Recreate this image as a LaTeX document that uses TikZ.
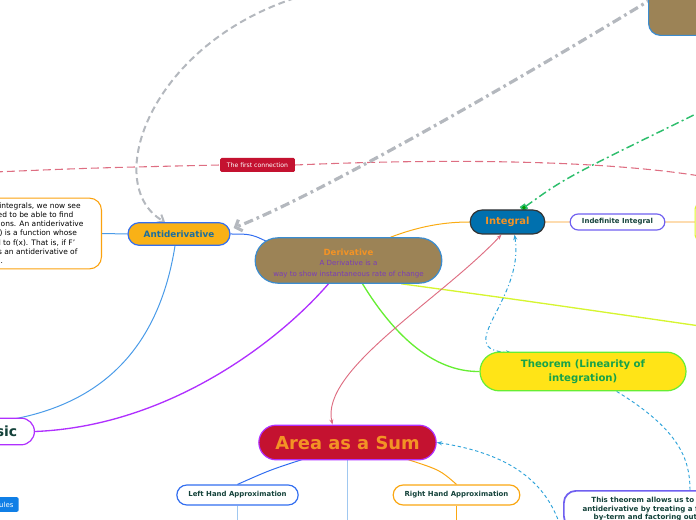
\documentclass[tikz,border=0pt]{standalone}
\usepackage{fontspec}
\setmainfont{DejaVu Sans}
\usepackage{tikz}
\usetikzlibrary{arrows.meta, calc, shapes.misc, backgrounds}
\definecolor{mapbrown}{RGB}{156,131,86}
\definecolor{maporange}{RGB}{243,147,37}
\definecolor{mappurple}{RGB}{122,61,184}
\definecolor{mapblue}{RGB}{59,140,208}
\definecolor{antifill}{RGB}{249,177,22}
\definecolor{antitext}{RGB}{27,110,158}
\definecolor{intfill}{RGB}{0,112,174}
\definecolor{areafill}{RGB}{196,18,48}
\definecolor{thmfill}{RGB}{255,228,23}
\definecolor{thmtext}{RGB}{22,162,74}
\definecolor{textgreen}{RGB}{20,66,58}
\definecolor{violetline}{RGB}{112,96,240}
\definecolor{brightviolet}{RGB}{176,48,255}
\definecolor{peach}{RGB}{253,220,176}
\definecolor{greyline}{RGB}{180,184,190}
\definecolor{pinkline}{RGB}{222,110,130}
\definecolor{limeline}{RGB}{214,245,48}
\definecolor{grassline}{RGB}{102,238,51}
\definecolor{dotgreen}{RGB}{45,190,108}
\definecolor{rulesblue}{RGB}{16,127,230}
\definecolor{skyline}{RGB}{74,155,232}
\definecolor{paleblue}{RGB}{160,200,240}
\definecolor{branchblue}{RGB}{50,110,240}

\begin{document}
\begin{tikzpicture}[
    x=0.75pt, y=-0.75pt,
    topic/.style={rounded rectangle, draw, line width=0.9pt, inner sep=0pt,
                  font=\bfseries},
    subtopic/.style={rounded rectangle, draw, line width=0.9pt, fill=white,
                     inner sep=0pt, text=textgreen,
                     font=\bfseries\fontsize{5.2}{6}\selectfont},
    notebox/.style={rectangle, rounded corners=9pt, draw, fill=white,
                    line width=0.8pt},
    link/.style={line width=0.75pt},
    relation/.style={line width=0.75pt, dash pattern=on 3pt off 2pt on 0.8pt off 2pt}
]
\useasboundingbox (0,0) rectangle (696,520);
\clip (0,0) rectangle (696,520);

% main topics
\node[topic, fill=mapbrown, draw=mapblue, minimum width=140pt, minimum height=34pt,
      align=center, text=maporange, font=\bfseries\fontsize{6.4}{8.5}\selectfont]
    (deriv) at (348.5,260.5)
    {\rule{0pt}{9pt}Derivative\\[-1pt]
     \mdseries\fontsize{5.3}{7.8}\selectfont\color{mappurple}A Derivative is a\\
     \mdseries\fontsize{5.3}{7.8}\selectfont\color{mappurple}way to show instantaneous rate of change};
\node[topic, fill=antifill, draw=branchblue, text=antitext, minimum width=76.5pt,
      minimum height=17pt, font=\bfseries\fontsize{6.6}{8}\selectfont] (antideriv)
    at (179,234) {Antiderivative};
\node[topic, fill=intfill, draw=black!80, text=maporange, minimum width=56pt,
      minimum height=18pt, font=\bfseries\fontsize{7.4}{9}\selectfont] (integral)
    at (507.5,222) {Integral};
\node[topic, fill=areafill, draw=brightviolet, text=maporange, minimum width=133pt,
      minimum height=26pt, font=\bfseries\fontsize{13.4}{16}\selectfont] (area)
    at (347.5,442.5) {Area as a Sum};
\node[topic, fill=thmfill, draw=grassline, text=thmtext, minimum width=154.5pt,
      minimum height=29pt, align=center, font=\bfseries\fontsize{7.6}{10.5}\selectfont]
    (theorem) at (583,371.5) {Theorem (Linearity of\\integration)};
\node[topic, fill=white, draw=brightviolet, text=textgreen, minimum height=20pt,
      inner xsep=12pt, anchor=east, font=\bfseries\fontsize{10.5}{12}\selectfont]
    (basic) at (35,431.5) {Basic};
\node[rectangle, rounded corners=9pt, fill=mapbrown, draw=mapblue, line width=0.9pt,
      minimum width=90pt, minimum height=60pt, anchor=south west] (fundamental)
    at (648,36) {};

% subtopics
\node[subtopic, draw=violetline, minimum width=71pt, minimum height=12pt] (indef)
    at (617.5,222) {Indefinite Integral};
\node[subtopic, draw=branchblue, minimum width=91pt, minimum height=15pt] (lefthand)
    at (237.5,495) {Left Hand Approximation};
\node[subtopic, draw=antifill!80!orange, minimum width=95pt, minimum height=15pt]
    (righthand) at (456.5,495) {Right Hand Approximation};
\node[rectangle, rounded corners=4pt, draw=limeline!80!yellow, fill=white,
      line width=0.9pt, minimum width=40pt, minimum height=28pt,
      anchor=west] (nextidea) at (694.5,222) {};

% notes
\node[notebox, draw=antifill!70!orange, anchor=east, align=left, inner xsep=13.5pt,
      minimum height=52pt, font=\fontsize{5.6}{6.9}\selectfont] (havingnote)
    at (102,233.5)
    {Having defined integrals, we now see\\
     that we also need to be able to find\\
     of various functions. An antiderivative\\
     of a function f(x) is a function whose\\
     derivative equal to f(x). That is, if F'\\
     (x) = f(x), F(x) is an antiderivative of\\
     the function f(x).};
\node[notebox, draw=violetline, line width=1.3pt, anchor=north west, align=center,
      inner xsep=14pt, inner ysep=5pt, text=textgreen,
      font=\bfseries\fontsize{5.3}{6.4}\selectfont] (thmnote) at (563,490)
    {This theorem allows us to compute an\\
     antiderivative by treating a function term-\\
     by-term and factoring out constants.};
\node[rectangle, rounded corners=1.5pt, fill=rulesblue, text=white, anchor=east,
      minimum height=11pt, inner xsep=4pt, font=\fontsize{5.2}{6}\selectfont]
    (rules) at (19,504.5) {Rules};
\node[rectangle, rounded corners=1pt, fill=areafill, text=white, minimum width=56pt,
      minimum height=10.5pt, inner sep=0pt, font=\fontsize{4.6}{5}\selectfont]
    (firstconn) at (257.5,165) {The first connection};

\begin{scope}[on background layer]
\clip (0,0) rectangle (696,520);
% tree branches
\draw[link, skyline] (havingnote.east) -- (antideriv.west);
\draw[link, branchblue] (antideriv.east) .. controls (252,234) .. ($(deriv.west)+(20,-15)$);
\draw[link, antifill!90!orange] ($(deriv.north)+(42,0)$) .. controls (420,226) and (445,222) .. (integral.west);
\draw[link, peach, line width=1.2pt] (integral.east) -- (indef.west);
\draw[link, peach, line width=1.2pt] (indef.east) -- (nextidea.west);
\draw[link, limeline, line width=1pt] ($(deriv.south east)+(-18,0)$) .. controls (520,300) .. (700,326);
\draw[link, grassline, line width=1pt] ($(deriv.south)+(14,0)$) .. controls (400,345) and (440,372) .. (theorem.west);
\draw[link, brightviolet, line width=1pt] (basic.east) .. controls (170,426) and (280,340) .. ($(deriv.south)+(-20,0)$);
\draw[link, skyline] ($(antideriv.south)+(-4,0)$) .. controls (160,340) and (110,400) .. ($(basic.north east)+(-5,1)$);
\draw[link, branchblue] ($(area.south)+(-45,-1)$) .. controls (270,470) .. (lefthand.north);
\draw[link, antifill!80!orange] ($(area.south)+(60,-1)$) .. controls (440,470) .. (righthand.north);
\draw[link, paleblue, line width=1.1pt] (area.south) -- (347.5,525);
\draw[link, paleblue, line width=1.1pt] (lefthand.south) -- (237.5,525);
\draw[link, antifill!80!orange] (righthand.south) -- (456.5,525);
% relations
\draw[pinkline, line width=0.8pt, dash pattern=on 6pt off 3pt]
    (-5,172) .. controls (90,168) .. (firstconn.west);
\draw[pinkline, line width=0.8pt, dash pattern=on 6pt off 3pt]
    (firstconn.east) .. controls (480,157) and (620,163) .. (700,176);
\draw[greyline, line width=1.5pt, dash pattern=on 5pt off 3pt, -{Straight Barb[length=4pt,width=7pt]}]
    (305,-5) .. controls (150,40) and (100,185) .. ($(antideriv.north)+(-14,0)$);
\draw[greyline, line width=2.4pt, dash pattern=on 7pt off 3pt on 2pt off 3pt,
      -{Straight Barb[length=4pt,width=9pt]}]
    (655,-3) .. controls (560,55) and (330,190) .. ($(antideriv.east)+(3,-6)$);
\draw[dotgreen, line width=1.1pt, dash pattern=on 6pt off 2.5pt on 1.5pt off 2.5pt,
      {Square[length=4.5pt,width=4.5pt,fill=green!60!black]}-]
    ($(integral.north)+(14,0)$) .. controls (565,178) .. (700,112);
\draw[mapblue!80!cyan, relation, {Stealth[length=4pt]}-{Stealth[length=4pt]}]
    ($(integral.south)+(7,0)$) .. controls (525,300) and (450,350) .. ($(theorem.north west)+(12,1)$);
\draw[pinkline, line width=0.7pt, {Stealth[length=4pt]}-{Stealth[length=4pt]}]
    ($(area.north)+(-15,0)$) .. controls (320,370) and (440,300) .. ($(integral.south)+(-6,0)$);
\draw[mapblue!80!cyan, line width=0.7pt, dash pattern=on 2.5pt off 2pt, {Stealth[length=4pt]}-]
    (area.east) .. controls (520,455) and (548,490) .. (560,525);
\draw[mapblue!80!cyan, line width=0.7pt, dash pattern=on 2.5pt off 2pt]
    ($(theorem.south east)+(-50,0)$) .. controls (680,430) and (690,460) .. ($(thmnote.north west)+(127,0)$);
\end{scope}
\end{tikzpicture}
\end{document}
